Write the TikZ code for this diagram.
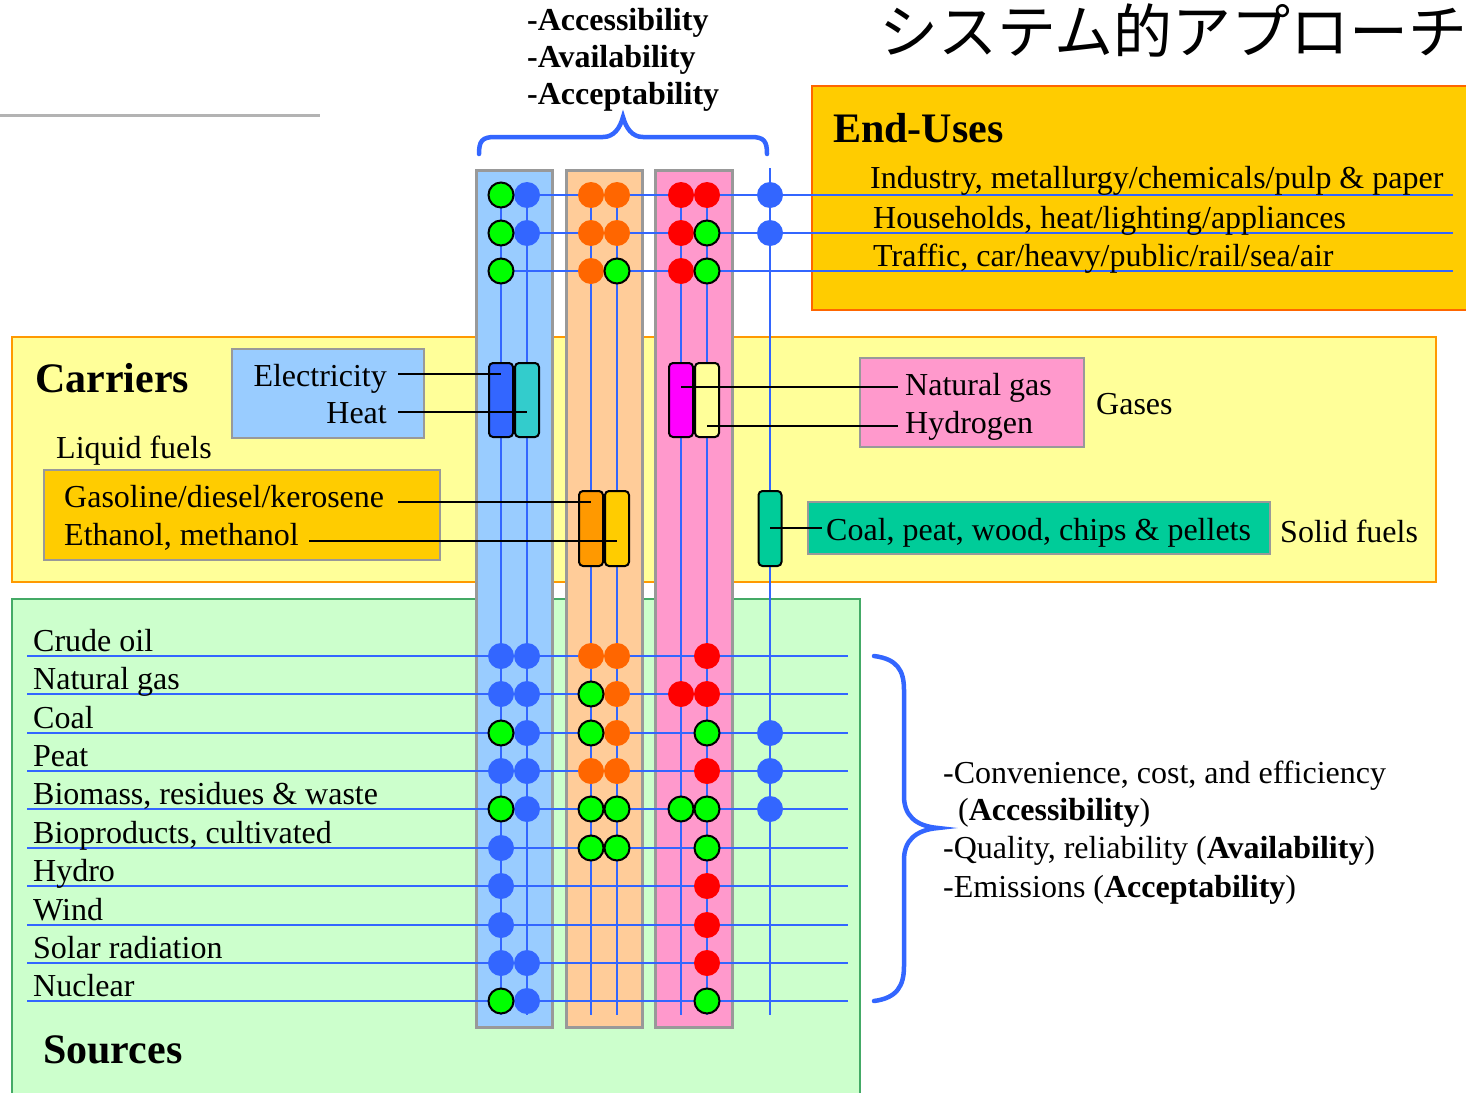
\documentclass[tikz,border=0pt]{standalone}
\usepackage{fontspec}
\setmainfont{Liberation Serif}
\newfontfamily\jpfont{Noto Sans CJK JP}
\definecolor{lineblue}{HTML}{3366FF}
\definecolor{dotorange}{HTML}{FF6600}
\definecolor{dotred}{HTML}{FF0000}
\definecolor{dotgreen}{HTML}{00FF00}
\definecolor{stripblue}{HTML}{99CCFF}
\definecolor{striporange}{HTML}{FFCC99}
\definecolor{strippink}{HTML}{FF99CC}
\definecolor{stripgray}{HTML}{999999}
\definecolor{carrfill}{HTML}{FFFF99}
\definecolor{carrdraw}{HTML}{FF9900}
\definecolor{srcfill}{HTML}{CCFFCC}
\definecolor{srcdraw}{HTML}{44AA66}
\definecolor{eufill}{HTML}{FFCC00}
\definecolor{eudraw}{HTML}{FF6600}
\definecolor{heatcol}{HTML}{33CCCC}
\definecolor{magentacol}{HTML}{FF00FF}
\definecolor{solidcol}{HTML}{00CC99}
\definecolor{topgray}{HTML}{B3B3B3}
\pgfdeclarelayer{front}
\pgfsetlayers{main,front}
\begin{document}
\begin{tikzpicture}[x=1pt,y=-1pt,
  txt/.style={font=\fontsize{32}{38}\selectfont, inner sep=0pt, anchor=base west},
  txtr/.style={font=\fontsize{32}{38}\selectfont, inner sep=0pt, anchor=base east},
  btxt/.style={font=\fontsize{32}{38}\selectfont\bfseries, inner sep=0pt, anchor=base west},
  headtxt/.style={font=\fontsize{42}{48}\selectfont\bfseries, inner sep=0pt, anchor=base west},
  panel/.style={line width=2pt},
  innerbox/.style={draw=stripgray, line width=2pt},
  stripbox/.style={draw=stripgray, line width=3pt},
  vline/.style={draw=lineblue, line width=2.5pt},
  hline/.style={draw=lineblue, line width=2.5pt},
  barbox/.style={draw=black, line width=2pt, rounded corners=4pt, minimum width=24pt, minimum height=74pt, inner sep=0pt},
  conn/.style={draw=black, line width=2pt},
  bracestroke/.style={draw=lineblue, line width=4.5pt, line cap=round},
  dotbase/.style={circle, inner sep=0pt, minimum size=26pt},
  dotB/.style={dotbase, fill=lineblue},
  dotO/.style={dotbase, fill=dotorange},
  dotR/.style={dotbase, fill=dotred},
  dotG/.style={dotbase, minimum size=25pt, fill=dotgreen, draw=black, line width=2pt},
]
\useasboundingbox (0,0) rectangle (1466,1092);
\clip (0,0) rectangle (1466,1092);

% title and top-left rule
\node[font=\jpfont\fontsize{59}{61}\selectfont, inner sep=0pt, anchor=base east] (title) at (1468,53) {システム的アプローチ};
\coordinate (ruleA) at (0,115);
\coordinate (ruleB) at (320,115);
\draw[topgray, line width=3pt] (ruleA) -- (ruleB);

% panels
\draw[panel, fill=carrfill, draw=carrdraw] (12,337) rectangle (1436,582);
\draw[panel, fill=srcfill, draw=srcdraw] (12,599) rectangle (860,1100);
\draw[panel, fill=eufill, draw=eudraw] (812,86) rectangle (1480,310);

% inner boxes
\draw[innerbox, fill=stripblue] (232,349) rectangle (424,438);
\draw[innerbox, fill=eufill] (44,470) rectangle (440,560);
\draw[innerbox, fill=strippink] (860,358) rectangle (1084,447);
\draw[innerbox, fill=solidcol] (808,502) rectangle (1270,554);

% strips
\draw[stripbox, fill=stripblue] (476,170) rectangle (552,1027);
\draw[stripbox, fill=striporange] (566,170) rectangle (642,1027);
\draw[stripbox, fill=strippink] (655,170) rectangle (732,1027);

% vertical lines
\foreach \xx/\ytop in {501/182,527/182,591/182,617/182,681/182,707/182,770/168}{
  \coordinate (vt\xx) at (\xx,\ytop);
  \coordinate (vb\xx) at (\xx,1015);
  \draw[vline] (vt\xx) -- (vb\xx);
}

% end-use lines and texts
\foreach \yy in {195,233,271}{
  \coordinate (euA\yy) at (501,\yy);
  \coordinate (euB\yy) at (1453,\yy);
  \draw[hline] (euA\yy) -- (euB\yy);
}
\node[headtxt] (endusesT) at (833,142) {End-Uses};
\node[txt] (indT) at (870,188) {Industry, metallurgy/chemicals/pulp \& paper};
\node[txt] (houT) at (873,228) {Households, heat/lighting/appliances};
\node[txt] (traT) at (873,266) {Traffic, car/heavy/public/rail/sea/air};

% source lines and texts
\foreach \yy/\nm in {656/Crude oil,694/Natural gas,733/Coal,771/Peat,809/{Biomass, residues \& waste},848/{Bioproducts, cultivated},886/Hydro,925/Wind,963/Solar radiation,1001/Nuclear}{
  \coordinate (srcA\yy) at (27,\yy);
  \coordinate (srcB\yy) at (848,\yy);
  \draw[hline] (srcA\yy) -- (srcB\yy);
  \node[txt] (srcT\yy) at (33,\yy-5) {\nm};
}
\node[headtxt] (sourcesT) at (43,1063) {Sources};

% carrier bars
\node[barbox, fill=lineblue] (elecbar) at (501,400) {};
\node[barbox, fill=heatcol] (heatbar) at (527,400) {};
\node[barbox, fill=magentacol] (ngbar) at (681,400) {};
\node[barbox, fill=carrfill] (h2bar) at (707,400) {};
\node[barbox, minimum height=75pt, fill=carrdraw] (gasobar) at (591,528.5) {};
\node[barbox, minimum height=75pt, fill=eufill] (ethbar) at (617,528.5) {};
\node[barbox, minimum height=75pt, minimum width=23pt, fill=solidcol] (solbar) at (770,528.5) {};

% carrier texts
\node[headtxt] (carriersT) at (35,392) {Carriers};
\node[txtr] (elecT) at (387,386) {Electricity};
\node[txtr] (heatT) at (387,423) {Heat};
\node[txt] (liqT) at (56,458) {Liquid fuels};
\node[txt] (gasoT) at (64,507) {Gasoline/diesel/kerosene};
\node[txt] (ethT) at (64,545) {Ethanol, methanol};
\node[txt] (ngT) at (905,395) {Natural gas};
\node[txt] (h2T) at (905,433) {Hydrogen};
\node[txt] (gasesT) at (1096,414) {Gases};
\node[txt] (solT) at (826,540) {Coal, peat, wood, chips \& pellets};
\node[txt] (solfT) at (1280,542) {Solid fuels};

% connectors
\coordinate (elecA) at (398,374);
\coordinate (heatA) at (398,412);
\coordinate (gasoA) at (398,502);
\coordinate (ethA) at (309,541);
\coordinate (ngA) at (898,387);
\coordinate (h2A) at (898,426);
\coordinate (solA) at (822,528);
\draw[conn] (elecA) -- (elecbar.center |- elecA);
\draw[conn] (heatA) -- (heatbar.center |- heatA);
\draw[conn] (gasoA) -- (gasobar.center |- gasoA);
\draw[conn] (ethA) -- (ethbar.center |- ethA);
\draw[conn] (ngbar.center |- ngA) -- (ngA);
\draw[conn] (h2bar.center |- h2A) -- (h2A);
\draw[conn] (solbar.center |- solA) -- (solA);

% dots
\def\dotrows{195/G/B/O/O/R/R/B,233/G/B/O/O/R/G/B,271/G/N/O/G/R/G/N,656/B/B/O/O/N/R/N,694/B/B/G/O/R/R/N,733/G/B/G/O/N/G/B,771/B/B/O/O/N/R/B,809/G/B/G/G/G/G/B,848/B/N/G/G/N/G/N,886/B/N/N/N/N/R/N,925/B/N/N/N/N/R/N,963/B/B/N/N/N/R/N,1001/G/B/N/N/N/G/N}
\foreach \yy/\qa/\qb/\qc/\qd/\qe/\qf/\qg in \dotrows {
  \edef\rowlist{\qa/501,\qb/527,\qc/591,\qd/617,\qe/681,\qf/707,\qg/770}
  \foreach \s/\xx [count=\i] in \rowlist {
    \if\s N\relax\else
      \if\s G
        \begin{pgfonlayer}{front}\node[dotG] (d\yy-\i) at (\xx,\yy) {};\end{pgfonlayer}
      \else
        \node[dot\s] (d\yy-\i) at (\xx,\yy) {};
      \fi
    \fi
  }
}

% top labels and brace
\node[btxt] (accT) at (527,30) {-Accessibility};
\node[btxt] (avaT) at (527,67) {-Availability};
\node[btxt] (acpT) at (527,104) {-Acceptability};
\draw[bracestroke] (479,154) .. controls (479,141) and (482,137) .. (495,137) -- (603,137) .. controls (614,137) and (620,128) .. (623,117) .. controls (626,128) and (632,137) .. (643,137) -- (751,137) .. controls (764,137) and (767,141) .. (767,154);

% right brace and texts
\draw[bracestroke] (874,656) .. controls (897,659) and (904,670) .. (904,690) -- (904,796) .. controls (904,815) and (915,826) .. (938,828) .. controls (915,830) and (904,841) .. (904,860) -- (904,966) .. controls (904,986) and (897,998) .. (874,1001);
\node[txt] (convT) at (943,783) {-Convenience, cost, and efficiency};
\node[txt] (accT2) at (958,820) {(\textbf{Accessibility})};
\node[txt] (qualT) at (943,858) {-Quality, reliability (\textbf{Availability})};
\node[txt] (emiT) at (943,897) {-Emissions (\textbf{Acceptability})};
\end{tikzpicture}
\end{document}
